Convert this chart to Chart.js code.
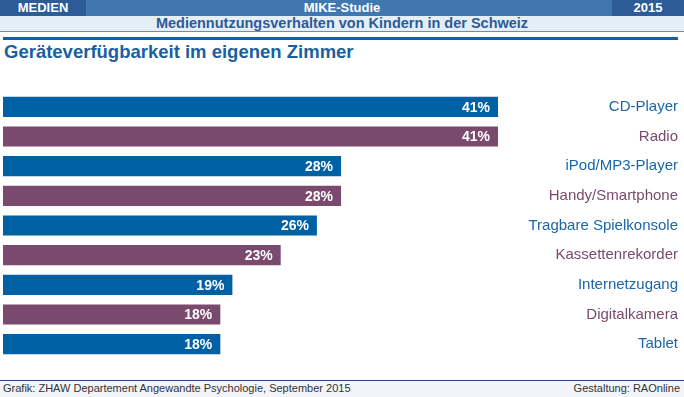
<!DOCTYPE html>
<html>
<head>
<meta charset="utf-8">
<script src="https://cdn.jsdelivr.net/npm/chart.js@4"></script>
<style>
  body { margin: 0; width: 684px; height: 397px; background: #fff; position: relative; overflow: hidden; font-family: "Liberation Sans", Arial, sans-serif; }
  .top { position: absolute; left: 0; top: 0; width: 684px; height: 16px; background: #3f78b0; color: #fff; font-weight: bold; font-size: 13px; line-height: 16px; }
  .top .l { position: absolute; left: 0; top: 0; width: 86px; height: 16px; background: #2d5b98; text-align: center; }
  .top .r { position: absolute; right: 0; top: 0; width: 72px; height: 16px; background: #2d5b98; text-align: center; }
  .top .m { text-align: center; }
  .sub { position: absolute; left: 0; top: 16px; width: 684px; height: 15px; background: #e4eef6; border-bottom: 1px solid #7089b5; color: #2d5b98; font-weight: bold; font-size: 14.5px; line-height: 15px; text-align: center; }
  .thick { position: absolute; left: 3px; top: 37px; width: 675px; height: 3px; background: #1060a8; }
  h1 { position: absolute; left: 4px; top: 41px; margin: 0; font-size: 18.5px; color: #1a5fa0; font-weight: bold; }
  .chart { position: absolute; left: 3px; top: 83px; width: 675px; height: 285px; }
  .foot { position: absolute; left: 0; top: 380px; width: 684px; height: 17px; background: #f2f4fa; border-top: 1px solid #2d4a80; font-size: 11px; color: #333; line-height: 15px; }
  .foot .l { position: absolute; left: 3px; top: 0; }
  .foot .r { position: absolute; right: 4px; top: 0; }
</style>
</head>
<body>
<div class="top"><div class="l">MEDIEN</div><div class="m">MIKE-Studie</div><div class="r">2015</div></div>
<div class="sub">Mediennutzungsverhalten von Kindern in der Schweiz</div>
<div class="thick"></div>
<h1>Geräteverfügbarkeit im eigenen Zimmer</h1>
<div class="chart"><canvas id="c"></canvas></div>
<div class="foot"><span class="l">Grafik: ZHAW Departement Angewandte Psychologie, September 2015</span><span class="r">Gestaltung: RAOnline</span></div>
<script>
const categories = ["CD-Player", "Radio", "iPod/MP3-Player", "Handy/Smartphone", "Tragbare Spielkonsole", "Kassettenrekorder", "Internetzugang", "Digitalkamera", "Tablet"];
const values = [41, 41, 28, 28, 26, 23, 19, 18, 18];

const blue = "#0060a4";
const purple = "#7a4a6e";
const barColors = categories.map((c, i) => (i % 2 === 0 ? blue : purple));
const labelColors = categories.map((c, i) => (i % 2 === 0 ? "#1a66a8" : "#7a4a6e"));

// Prozentwerte innen am Balkenende
const valueLabels = {
  id: "valueLabels",
  afterDatasetsDraw(chart) {
    const ctx = chart.ctx;
    const meta = chart.getDatasetMeta(0);
    ctx.save();
    ctx.fillStyle = "#fff";
    ctx.font = "bold 14px 'Liberation Sans', Arial, sans-serif";
    ctx.textAlign = "right";
    ctx.textBaseline = "middle";
    meta.data.forEach((bar, i) => {
      ctx.fillText(values[i] + "%", bar.x - 8, bar.y + 1);
    });
    ctx.restore();
  },
};

new Chart(document.getElementById("c"), {
  type: "bar",
  data: {
    labels: categories,
    datasets: [
      {
        data: values,
        backgroundColor: barColors,
        borderWidth: 0,
        barPercentage: 0.68,
        categoryPercentage: 1,
      },
    ],
  },
  options: {
    indexAxis: "y",
    responsive: true,
    maintainAspectRatio: false,
    animation: false,
    layout: { padding: 0 },
    plugins: { legend: { display: false }, tooltip: { enabled: false } },
    scales: {
      x: {
        min: 0,
        max: 41,
        display: false,
      },
      y: {
        position: "right",
        grid: { display: false },
        border: { display: false },
        afterFit(axis) { axis.width = 180; },
        ticks: {
          crossAlign: "far",
          color: labelColors,
          font: { family: "'Liberation Sans', Arial, sans-serif", size: 15 },
          padding: 0,
        },
      },
    },
  },
  plugins: [valueLabels],
});
</script>
</body>
</html>
